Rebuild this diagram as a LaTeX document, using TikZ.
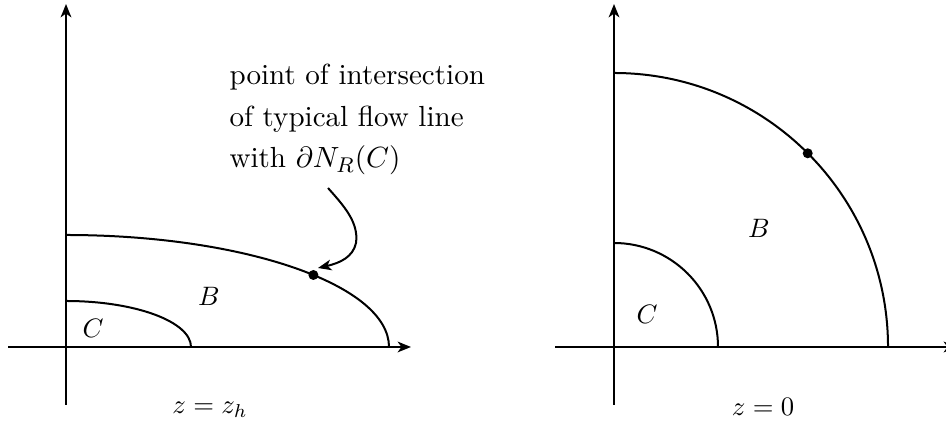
\documentclass[tikz,border=0pt]{standalone}
\usetikzlibrary{arrows.meta}
\begin{document}
\begin{tikzpicture}[x=0.375pt,y=0.375pt,
  ln/.style={line width=0.75pt},
  tip/.style={-{Stealth[length=5pt,width=4pt,inset=1.4pt]}},
  axis/.style={ln,tip},
  lbl/.style={inner sep=0pt,font=\fontsize{10.4}{12}\selectfont},
  txt/.style={inner sep=0pt,anchor=base west,font=\fontsize{10.9}{13}\selectfont},
  dotc/.style={fill=black}]
\useasboundingbox (0,0) rectangle (946,429);
% ---------- left figure ----------
\coordinate (Ly0) at (66,24);
\coordinate (Ly1) at (66,425);
\coordinate (Lx0) at (8,82);
\coordinate (Lx1) at (411,82);
\draw[axis] (Ly0) -- (Ly1);
\draw[axis] (Lx0) -- (Lx1);
\coordinate (Lc) at (66,128);
\coordinate (Lb) at (66,194);
\draw[ln] (Lc) arc[start angle=90,end angle=0,x radius=125,y radius=46];
\draw[ln] (Lb) arc[start angle=90,end angle=0,x radius=323,y radius=112];
\coordinate (Ld) at (313.4,154);
\fill[dotc] (Ld) circle[radius=5];
\node[lbl] (LC) at (93,101) {$C$};
\node[lbl] (LB) at (209,133) {$B$};
\node[txt] (t1) at (229,344) {point of intersection};
\node[txt] (t2) at (229,302) {of typical flow line};
\node[txt] (t3) at (229,261) {with $\partial N_R(C)$};
\coordinate (s0) at (328,241);
\coordinate (sm) at (356,186);
\coordinate (s1) at (318,161);
\draw[ln,tip] (s0) .. controls (343,224) and (359,207) .. (sm) .. controls (353,172) and (340,166) .. (s1);
\node[lbl] (zl) at (210,19) {$z=z_h$};
% ---------- right figure ----------
\coordinate (Ry0) at (614,24);
\coordinate (Ry1) at (614,425);
\coordinate (Rx0) at (555,82);
\coordinate (Rx1) at (957,82);
\draw[axis] (Ry0) -- (Ry1);
\draw[axis] (Rx0) -- (Rx1);
\coordinate (Rc) at (614,186);
\coordinate (Rb) at (614,356);
\draw[ln] (Rc) arc[start angle=90,end angle=0,radius=104];
\draw[ln] (Rb) arc[start angle=90,end angle=0,radius=274];
\coordinate (Rd) at (807.7,275.7);
\fill[dotc] (Rd) circle[radius=5];
\node[lbl] (RC) at (647,115) {$C$};
\node[lbl] (RB) at (759,201) {$B$};
\node[lbl] (zr) at (763,22) {$z=0$};
\end{tikzpicture}
\end{document}
